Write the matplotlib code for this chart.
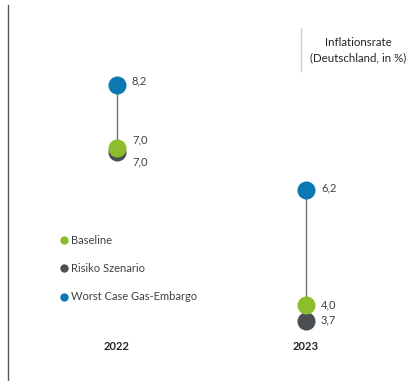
import matplotlib
matplotlib.use("Agg")
import matplotlib.pyplot as plt
import matplotlib.transforms as mtransforms
from matplotlib.lines import Line2D

plt.rcParams['font.family'] = ['Lato', 'DejaVu Sans']

years = ["2022", "2023"]
series_names = ["Baseline", "Risiko Szenario", "Worst Case Gas-Embargo"]
baseline = [7.0, 4.0]
risiko = [7.0, 3.7]
worst = [8.2, 6.2]
colors = {"Baseline": "#8dbd2c", "Risiko Szenario": "#4b4e52", "Worst Case Gas-Embargo": "#0b78b3"}
title = "Inflationsrate\n(Deutschland, in %)"

fig = plt.figure(figsize=(4.18, 3.81), dpi=100)
ax = fig.add_axes([0, 0, 1, 1])
ax.set_xlim(-0.619, 1.593)
ax.set_ylim(2.56, 9.82)
ax.axis('off')

xs = list(range(len(years)))
text_color = "#404040"
fs = 8

for i, x in enumerate(xs):
    ax.plot([x, x], [min(baseline[i], worst[i]), max(baseline[i], worst[i])],
            color="#6d6d6d", lw=1.0, zorder=1)

for i, x in enumerate(xs):
    off = -4 if risiko[i] == baseline[i] else 0
    tr = ax.transData + mtransforms.ScaledTranslation(0, off / 100, fig.dpi_scale_trans)
    ax.plot([x], [risiko[i]], 'o', ms=13, color=colors["Risiko Szenario"], mec='none', zorder=2, transform=tr)
    ax.plot([x], [baseline[i]], 'o', ms=13, color=colors["Baseline"], mec='none', zorder=3)
    ax.plot([x], [worst[i]], 'o', ms=13, color=colors["Worst Case Gas-Embargo"], mec='none', zorder=3)

def lab(x, y, s, dy=0):
    tr = ax.transData + mtransforms.ScaledTranslation(15 / 100, dy / 100, fig.dpi_scale_trans)
    ax.text(x, y, s, transform=tr, fontsize=fs, color=text_color, va='center', ha='left')

fmt = lambda v: f"{v:.1f}".replace('.', ',')
for i, x in enumerate(xs):
    if baseline[i] == risiko[i]:
        lab(x, worst[i], fmt(worst[i]), dy=4)
        lab(x, baseline[i], fmt(baseline[i]), dy=8)
        lab(x, risiko[i], fmt(risiko[i]), dy=-14)
    else:
        lab(x, worst[i], fmt(worst[i]), dy=2)
        lab(x, baseline[i], fmt(baseline[i]), dy=1)
        lab(x, risiko[i], fmt(risiko[i]), dy=1)

for i, x in enumerate(xs):
    ax.text(x, 2.56 + 35 / 52.5, years[i], fontsize=fs, fontweight='bold', color="#262626",
            ha='center', va='center')

# legend
leg_y = [240, 268, 297]
for name, yp in zip(series_names, leg_y):
    fig.lines.append(Line2D([64 / 418], [1 - yp / 381], marker='o', ms=6,
                            color=colors[name], mec='none', transform=fig.transFigure))
    fig.text(71 / 418, 1 - yp / 381, name, fontsize=fs, color=text_color, va='center', ha='left')

# title with separator
fig.text(358 / 418, 1 - 50 / 381, title, fontsize=8.3, color="#262626", ha='center', va='center',
         linespacing=1.45)
fig.lines.append(Line2D([301 / 418, 301 / 418], [1 - 28 / 381, 1 - 71 / 381],
                        color="#d0d0d0", lw=1.0, transform=fig.transFigure))

# left axis line
fig.lines.append(Line2D([8 / 418, 8 / 418], [1 - 5 / 381, 0],
                        color="#595959", lw=1.0, transform=fig.transFigure))

fig.savefig("out.png", dpi=100)
